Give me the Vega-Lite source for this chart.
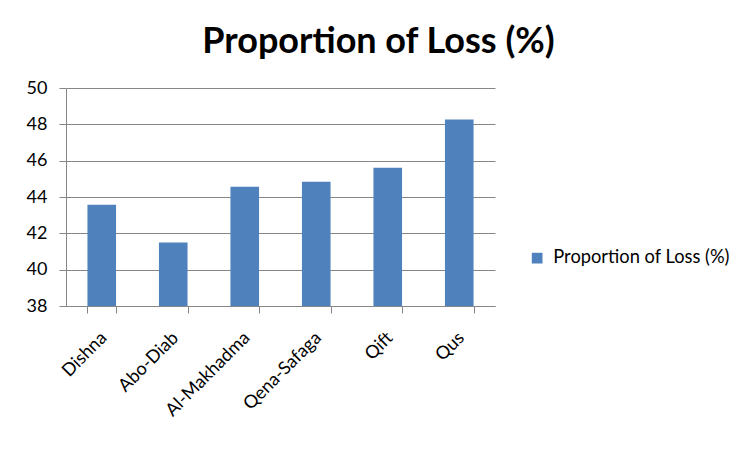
{
  "$schema": "https://vega.github.io/schema/vega-lite/v6.json",
  "autosize": "none",
  "width": 429,
  "height": 218,
  "padding": {"left": 66, "top": 88, "right": 258, "bottom": 145},
  "background": "white",
  "title": {
    "text": "Proportion of Loss (%)",
    "font": "Lato",
    "fontSize": 36,
    "fontWeight": "bold",
    "color": "#000000",
    "anchor": "middle",
    "frame": "group",
    "dx": 98,
    "offset": 18
  },
  "data": {
    "values": [
      {"region": "Dishna", "loss": 43.58, "series": "Proportion of Loss (%)"},
      {"region": "Abo-Diab", "loss": 41.49, "series": "Proportion of Loss (%)"},
      {"region": "Al-Makhadma", "loss": 44.57, "series": "Proportion of Loss (%)"},
      {"region": "Qena-Safaga", "loss": 44.84, "series": "Proportion of Loss (%)"},
      {"region": "Qift", "loss": 45.61, "series": "Proportion of Loss (%)"},
      {"region": "Qus", "loss": 48.26, "series": "Proportion of Loss (%)"}
    ]
  },
  "mark": {"type": "bar", "clip": true},
  "encoding": {
    "x": {
      "field": "region",
      "type": "nominal",
      "sort": null,
      "scale": {"paddingInner": 0.6, "paddingOuter": 0.3},
      "axis": {
        "title": null,
        "labelAngle": -45,
        "labelAlign": "right",
        "labelBaseline": "middle",
        "labelFont": "Lato",
        "labelFontSize": 18,
        "labelColor": "#000000",
        "labelPadding": 22,
        "labelOffset": 2,
        "labelLimit": 300,
        "tickBand": "extent",
        "tickSize": 7,
        "tickColor": "#868686",
        "domainColor": "#868686",
        "grid": false
      }
    },
    "y": {
      "field": "loss",
      "type": "quantitative",
      "scale": {"domain": [38, 50], "zero": false, "nice": false},
      "axis": {
        "title": null,
        "values": [38, 40, 42, 44, 46, 48, 50],
        "labelFont": "Lato",
        "labelFontSize": 18,
        "labelColor": "#000000",
        "tickSize": 7,
        "labelPadding": 12,
        "tickColor": "#868686",
        "domainColor": "#868686",
        "gridColor": "#868686",
        "grid": true
      }
    },
    "color": {
      "field": "series",
      "type": "nominal",
      "scale": {"range": ["#4F81BD"]},
      "legend": {
        "title": null,
        "orient": "none",
        "legendX": 462,
        "legendY": 161,
        "symbolType": "square",
        "symbolSize": 115,
        "symbolStrokeWidth": 0,
        "labelFont": "Lato",
        "labelFontSize": 18.3,
        "labelColor": "#000000",
        "labelOffset": 7,
        "labelLimit": 400,
        "padding": 0
      }
    }
  },
  "config": {
    "view": {"stroke": null}
  }
}
